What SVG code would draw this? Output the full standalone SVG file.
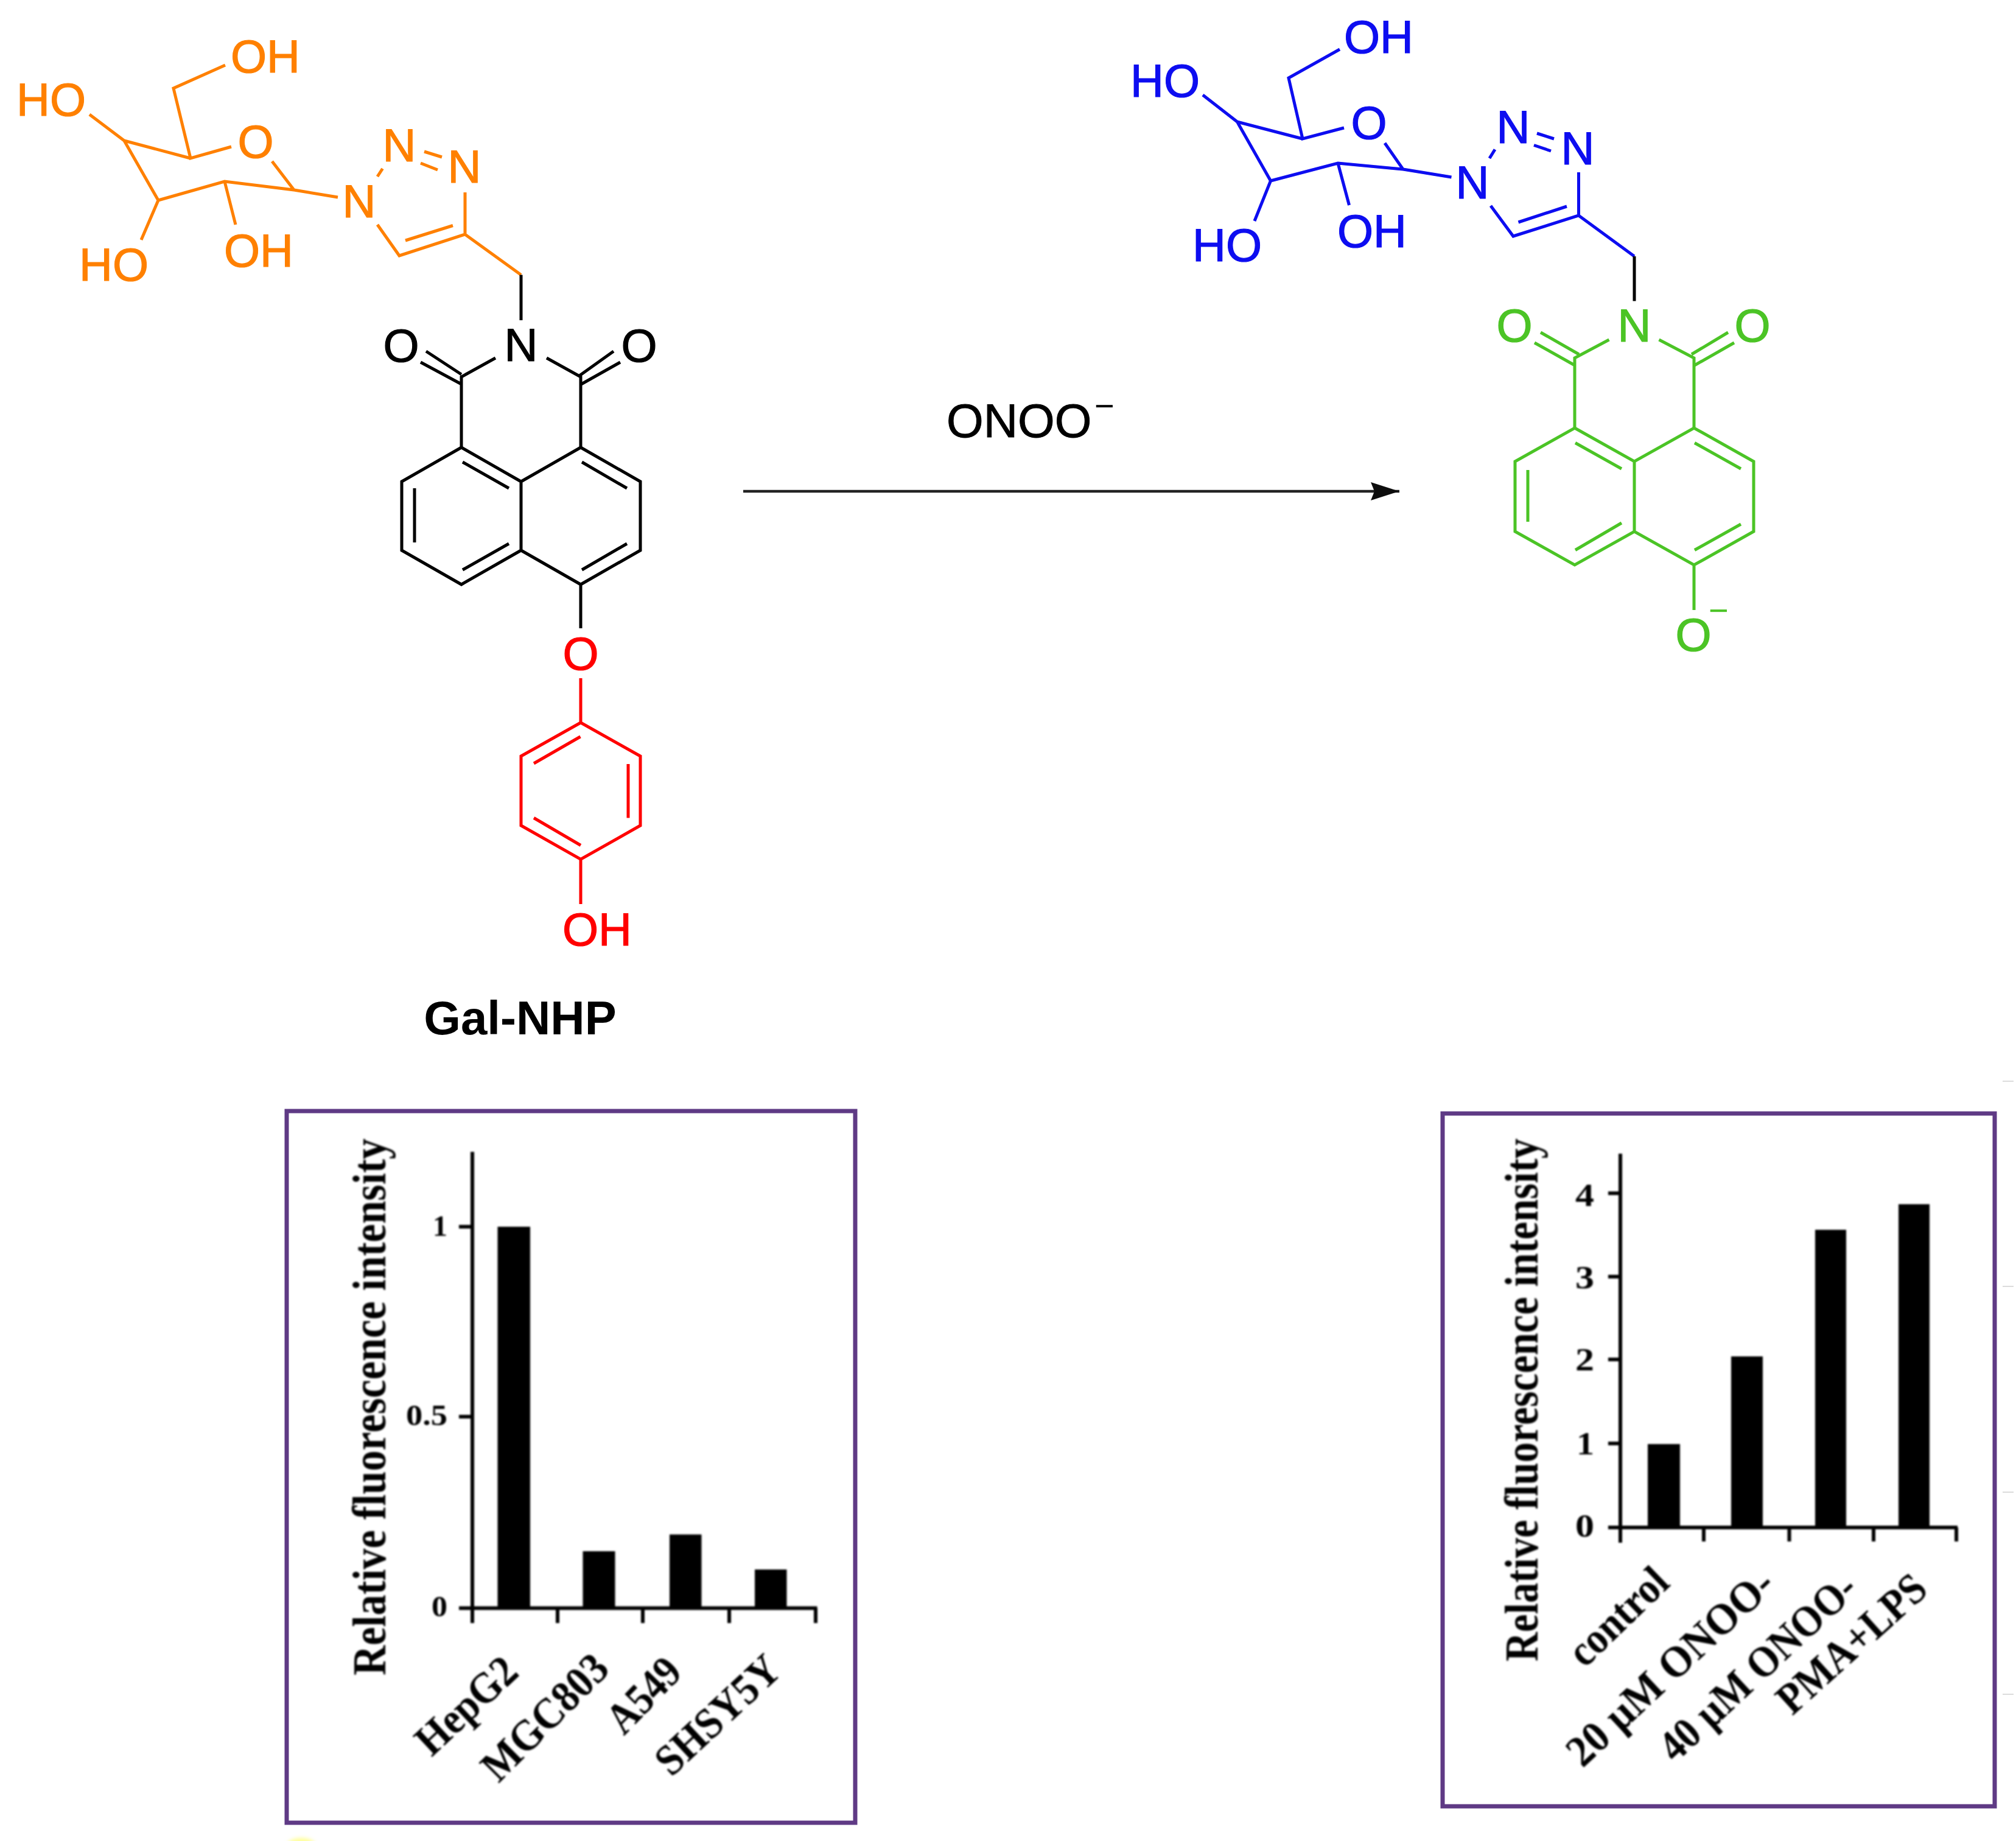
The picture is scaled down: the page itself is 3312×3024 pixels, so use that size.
<svg xmlns="http://www.w3.org/2000/svg" width="3312" height="3024" viewBox="0 0 3312 3024">
<defs>
<marker id="head" markerUnits="userSpaceOnUse" markerWidth="50" markerHeight="30" refX="47" refY="15" orient="auto"><path d="M0 0 L47 15 L0 30 L6 15 Z" fill="#111"/></marker>
<filter id="soft" filterUnits="userSpaceOnUse" x="0" y="0" width="3312" height="3024"><feGaussianBlur stdDeviation="1.4"/></filter>
<filter id="soft2" filterUnits="userSpaceOnUse" x="0" y="0" width="3312" height="3024"><feGaussianBlur stdDeviation="0.7"/></filter>
<filter id="smudge" filterUnits="userSpaceOnUse" x="400" y="2950" width="200" height="74"><feGaussianBlur stdDeviation="3"/></filter>
</defs>
<style>
.b{fill:none;stroke-width:5;stroke-linecap:butt;stroke-linejoin:miter}
.a{font-family:"Liberation Sans",Arial,sans-serif;font-size:76px;text-anchor:middle;stroke-width:1.2}
.orange{stroke:#ff8000}.torange{fill:#ff8000;stroke:#ff8000}
.blue{stroke:#0808f0}.tblue{fill:#0808f0;stroke:#0808f0}
.green{stroke:#4cc425}.tgreen{fill:#4cc425;stroke:#4cc425}
.red{stroke:#ff0000}.tred{fill:#ff0000;stroke:#ff0000}
.black{stroke:#000}.tblack{fill:#000;stroke:#000}
.frame{fill:#fff;stroke:#5f3a85;stroke-width:7}
.ax{fill:none;stroke:#000;stroke-width:6}
.bar{fill:#000}
.t{font-family:"Liberation Serif","Times New Roman",serif;font-weight:bold;fill:#000}
.tick{font-size:48px;text-anchor:end}
.ylab{font-size:78px}
.xlab{font-size:72px}
.mark{stroke:#dcdcdc;stroke-width:2}
</style>
<rect width="3312" height="3024" fill="#fff"/>

<g id="gal-nhp-sugar" filter="url(#soft2)">
<path class="b orange" d="M370 107L285 145L313 260L380 241M447 265L483 312L369 298L260 329L204 231L313 260M204 231L147 188M260 329L232 394M369 298L387 369M483 312L555 324"/>
<text class="a torange" x="436" y="119">OH</text>
<text class="a torange" x="84" y="190">HO</text>
<text class="a torange" x="420" y="259">O</text>
<text class="a torange" x="187" y="461">HO</text>
<text class="a torange" x="425" y="438">OH</text>
</g>
<g id="gal-nhp-triazole" filter="url(#soft2)">
<path class="b orange" d="M620 290L628.5 277M697 249L726 258M691 268L719 279M764 316L764 385L656 420L620 369M744 370.5L666 395M764 385L856 451.5"/>
<text class="a torange" x="590" y="357">N</text>
<text class="a torange" x="656" y="265">N</text>
<text class="a torange" x="763" y="300">N</text>
</g>
<g id="gal-nhp-naphthalimide" filter="url(#soft2)">
<path class="b black" d="M856 451.5L856 526M814 588L758 619L758 735M898 588L954 619L954 735M758 631L691 595M758 615L700 577M955 631L1019 595M952 617L1008 577"/>
<path class="b black" d="M758 735L856 791L954 735L1052 791L1052 904L954 960L856 904L758 960L660 904L660 791Z M856 791L856 904 M760 759L836 802M956 759L1030 802M681 802L681 891M760 936L836 893M1030 893L956 936M954 960L954 1032"/>
<text class="a tblack" x="856" y="593">N</text>
<text class="a tblack" x="659" y="594">O</text>
<text class="a tblack" x="1050" y="594">O</text>
</g>
<g id="gal-nhp-phenol" filter="url(#soft2)">
<path class="b red" d="M954 1114L954 1187L1052 1242L1052 1356L954 1411.5L856 1356L856 1242L954 1187M877 1254L953.5 1210M1032 1255L1032 1343.5M877 1343.5L954 1388.5M954 1411.5L954 1485"/>
<text class="a tred" x="954" y="1100">O</text>
<text class="a tred" x="981" y="1553">OH</text>
</g>
<g id="gal-nhp-label" filter="url(#soft2)">
<text x="854.5" y="1699" text-anchor="middle" font-family="'Liberation Sans',Arial,sans-serif" font-weight="bold" font-size="78" fill="#000">Gal-NHP</text>
</g>

<g id="product-sugar" filter="url(#soft2)">
<path class="b blue" d="M2201 81L2117 128L2140 228L2208 210M2275 235L2305 278L2198 268L2087.5 297L2032.5 200L2140 228M2032.5 200L1976 156M2087.5 297L2061 363M2198 268L2216.5 337M2305 278L2384.5 291"/>
<text class="a tblue" x="2265" y="87">OH</text>
<text class="a tblue" x="1914" y="159">HO</text>
<text class="a tblue" x="2249" y="228">O</text>
<text class="a tblue" x="2016" y="429">HO</text>
<text class="a tblue" x="2254" y="406">OH</text>
</g>
<g id="product-triazole" filter="url(#soft2)">
<path class="b blue" d="M2447 260L2456 245.5M2525 219L2553 228M2520 238.5L2548 248M2593.5 283L2593.5 354L2486 388L2449 338M2574 339L2494.5 365M2593.5 354L2685 421"/>
<text class="a tblue" x="2419" y="326">N</text>
<text class="a tblue" x="2486" y="235">N</text>
<text class="a tblue" x="2592" y="270">N</text>
</g>
<g id="product-linker" filter="url(#soft2)">
<path class="b black" d="M2685 421L2685 494.5"/>
</g>
<g id="product-naphthalimide" filter="url(#soft2)">
<path class="b green" d="M2643.5 558L2587 588L2587 703M2725.5 558L2783 588L2783 703M2587 600L2521 563M2594 582L2531 546M2784 600L2849 563M2779 582L2839 546"/>
<path class="b green" d="M2587 703L2685 758L2783 703L2881 758L2881 873L2783 928L2685 873L2587 928L2489 873L2489 758Z M2685 758L2685 873M2588 727.5L2664 770M2784 727.5L2860 770M2510 772L2510 857M2588 903.5L2664 859M2784 903.5L2860 861M2783 928L2783 1002"/>
<text class="a tgreen" x="2685" y="561">N</text>
<text class="a tgreen" x="2488" y="561">O</text>
<text class="a tgreen" x="2879" y="561">O</text>
<text class="a tgreen" x="2782" y="1069">O</text>
<text x="2807" y="1022" font-family="'Liberation Sans',Arial,sans-serif" font-size="56" fill="#4cc425">−</text>
</g>

<g id="connectors" filter="url(#soft2)">
<line x1="1221" y1="807" x2="2299" y2="807" stroke="#222" stroke-width="4.5" marker-end="url(#head)"/>
</g>
<g id="reagent" filter="url(#soft2)">
<text x="1555" y="718" font-family="'Liberation Sans',Arial,sans-serif" font-size="78" fill="#000" stroke="#000" stroke-width="1">ONOO</text>
<text x="1798" y="686" font-family="'Liberation Sans',Arial,sans-serif" font-size="56" fill="#000">−</text>
</g>

<g id="chart-left">
<rect class="frame" x="471" y="1825" width="934" height="1169"/>
<g filter="url(#soft)">
<path class="ax" d="M776 1892V2666M754 2015H776M754 2327H776M754 2641.5H1342.5M916 2641.5V2666M1056 2641.5V2666M1198 2641.5V2666M1340 2641.5V2666"/>
<rect class="bar" x="817.5" y="2015" width="53.5" height="626"/>
<rect class="bar" x="957.5" y="2548" width="53" height="93"/>
<rect class="bar" x="1100" y="2520.5" width="52.5" height="120.5"/>
<rect class="bar" x="1240" y="2578" width="52.5" height="63"/>
<text class="t tick" x="735" y="2030">1</text>
<text class="t tick" x="735" y="2341" textLength="68" lengthAdjust="spacingAndGlyphs">0.5</text>
<text class="t tick" x="735" y="2655" textLength="26" lengthAdjust="spacingAndGlyphs">0</text>
<text class="t ylab" transform="translate(633 2752) rotate(-90)" textLength="882" lengthAdjust="spacingAndGlyphs">Relative fluorescence intensity</text>
<text class="t xlab" transform="translate(709 2887) rotate(-43)" textLength="200" lengthAdjust="spacingAndGlyphs">HepG2</text>
<text class="t xlab" transform="translate(819 2930) rotate(-45)" textLength="262" lengthAdjust="spacingAndGlyphs">MGC803</text>
<text class="t xlab" transform="translate(1025 2852) rotate(-46)" textLength="142" lengthAdjust="spacingAndGlyphs">A549</text>
<text class="t xlab" transform="translate(1103 2920) rotate(-43)" textLength="252" lengthAdjust="spacingAndGlyphs">SHSY5Y</text>
</g>
</g>

<g id="chart-right">
<rect class="frame" x="2370" y="1829" width="907" height="1138"/>
<g filter="url(#soft)">
<path class="ax" d="M2662 1895V2534M2642 1960H2662M2642 2097H2662M2642 2233H2662M2642 2371H2662M2642 2509H3216M2799 2509V2532M2939.5 2509V2532M3078 2509V2532M3214 2509V2532"/>
<rect class="bar" x="2707" y="2372" width="53" height="137"/>
<rect class="bar" x="2844" y="2228" width="52" height="281"/>
<rect class="bar" x="2982" y="2020" width="51" height="489"/>
<rect class="bar" x="3119" y="1978" width="51" height="531"/>
<text class="t" font-size="52" x="2588" y="1981" textLength="31" lengthAdjust="spacingAndGlyphs">4</text>
<text class="t" font-size="52" x="2588" y="2116" textLength="31" lengthAdjust="spacingAndGlyphs">3</text>
<text class="t" font-size="52" x="2588" y="2251" textLength="31" lengthAdjust="spacingAndGlyphs">2</text>
<text class="t" font-size="52" x="2590" y="2389" textLength="29" lengthAdjust="spacingAndGlyphs">1</text>
<text class="t" font-size="52" x="2588" y="2524" textLength="31" lengthAdjust="spacingAndGlyphs">0</text>
<text class="t ylab" transform="translate(2526 2729) rotate(-90)" textLength="859" lengthAdjust="spacingAndGlyphs">Relative fluorescence intensity</text>
<text class="t xlab" transform="translate(2603.5 2741) rotate(-44)" textLength="198" lengthAdjust="spacingAndGlyphs">control</text>
<text class="t xlab" transform="translate(2600 2905) rotate(-43)" textLength="437" lengthAdjust="spacingAndGlyphs">20 µM ONOO-</text>
<text class="t xlab" transform="translate(2752 2897) rotate(-43)" textLength="415" lengthAdjust="spacingAndGlyphs">40 µM ONOO-</text>
<text class="t xlab" transform="translate(2944.5 2819) rotate(-42)" textLength="304" lengthAdjust="spacingAndGlyphs">PMA+LPS</text>
</g>
</g>

<path class="mark" d="M3290 1776H3308M3290 2113H3308M3290 2451H3308M3290 2783H3308"/>
<ellipse cx="495" cy="3032" rx="24" ry="13" fill="#ffff99" filter="url(#smudge)"/>
</svg>
